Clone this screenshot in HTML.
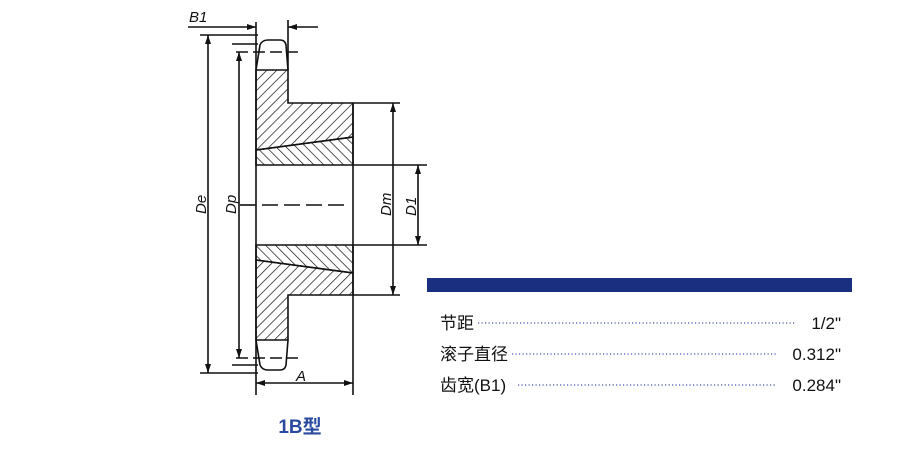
<!DOCTYPE html>
<html><head><meta charset="utf-8"><style>
body{margin:0;width:900px;height:450px;background:#fff;overflow:hidden;font-family:"Liberation Sans","Noto Sans CJK SC",sans-serif;}
</style></head><body>
<svg width="900" height="450" xmlns="http://www.w3.org/2000/svg" style="position:absolute;left:0;top:0">
<defs>
<pattern id="h1" width="7" height="7" patternUnits="userSpaceOnUse" patternTransform="rotate(45)"><line x1="0" y1="0" x2="0" y2="7" stroke="#111" stroke-width="1.4"/></pattern>
<pattern id="h2" width="7" height="7" patternUnits="userSpaceOnUse" patternTransform="rotate(-45)"><line x1="0" y1="0" x2="0" y2="7" stroke="#111" stroke-width="1.4"/></pattern>
<marker id="a" markerWidth="9" markerHeight="6" refX="9" refY="3" orient="auto-start-reverse" markerUnits="userSpaceOnUse"><path d="M0,0 L9,3 L0,6 z" fill="#111"/></marker>
</defs>
<g stroke="#111" stroke-width="1.6" fill="none">
<path d="M256,70 L288,70 L288,103 L353,103 L353,137 L256,150 Z" fill="url(#h1)"/>
<path d="M256,150 L353,137 L353,165 L256,165 Z" fill="url(#h2)"/>
<path d="M256,340 L288,340 L288,295 L353,295 L353,273 L256,260 Z" fill="url(#h1)"/>
<path d="M256,260 L353,273 L353,245 L256,245 Z" fill="url(#h2)"/>
<path d="M256,70 L260,45 Q262,40 268,40 L280,40 Q285,40 286,45 L288,70"/>
<path d="M256,340 L260,365 Q262,370 268,370 L280,370 Q285,370 286,365 L288,340"/>
<line x1="256" y1="22" x2="256" y2="395"/>
<line x1="288" y1="20" x2="288" y2="70"/>
<line x1="353" y1="103" x2="353" y2="395"/>
<line x1="236" y1="52" x2="298" y2="52" stroke-dasharray="12,5"/>
<line x1="236" y1="358" x2="298" y2="358" stroke-dasharray="12,5"/>
<line x1="240" y1="205" x2="350" y2="205" stroke-dasharray="16,6"/>
<line x1="200" y1="35" x2="258" y2="35"/>
<line x1="200" y1="373" x2="258" y2="373"/>
<line x1="232" y1="44" x2="258" y2="44"/>
<line x1="232" y1="365" x2="258" y2="365"/>
<line x1="353" y1="103" x2="400" y2="103"/>
<line x1="353" y1="295" x2="400" y2="295"/>
<line x1="353" y1="165" x2="427" y2="165"/>
<line x1="353" y1="245" x2="427" y2="245"/>
<line x1="208" y1="35" x2="208" y2="373" marker-start="url(#a)" marker-end="url(#a)"/>
<line x1="239" y1="52" x2="239" y2="358" marker-start="url(#a)" marker-end="url(#a)"/>
<line x1="393" y1="103" x2="393" y2="295" marker-start="url(#a)" marker-end="url(#a)"/>
<line x1="418" y1="165" x2="418" y2="245" marker-start="url(#a)" marker-end="url(#a)"/>
<line x1="256" y1="383" x2="353" y2="383" marker-start="url(#a)" marker-end="url(#a)"/>
<line x1="188" y1="27" x2="256" y2="27" marker-end="url(#a)"/>
<line x1="318" y1="27" x2="288" y2="27" marker-end="url(#a)"/>
</g>
<g font-family="Liberation Sans,sans-serif" font-style="italic" font-size="15" fill="#111">
<text x="189" y="22">B1</text>
<text x="296" y="381">A</text>
<text transform="translate(206,214) rotate(-90)">De</text>
<text transform="translate(236,214) rotate(-90)">Dp</text>
<text transform="translate(391,216) rotate(-90)">Dm</text>
<text transform="translate(416,216) rotate(-90)">D1</text>
</g>
<text x="300" y="433" text-anchor="middle" font-family="Liberation Sans,Noto Sans CJK SC,sans-serif" font-weight="bold" font-size="19" fill="#2a4aa0">1B型</text>
<rect x="427" y="278" width="425" height="14" fill="#1a2f80"/>
<g font-family="Liberation Sans,Noto Sans CJK SC,sans-serif" font-size="17" fill="#111">
<text x="440" y="329">节距</text>
<text x="440" y="360">滚子直径</text>
<text x="440" y="391">齿宽(B1)</text>
<text x="841" y="329" text-anchor="end">1/2"</text>
<text x="841" y="360" text-anchor="end">0.312"</text>
<text x="841" y="391" text-anchor="end">0.284"</text>
</g>
<g stroke="#6670c0" stroke-width="1.5" stroke-dasharray="1.2,2.3">
<line x1="478" y1="323" x2="796" y2="323"/>
<line x1="512" y1="354" x2="776" y2="354"/>
<line x1="518" y1="385" x2="776" y2="385"/>
</g>
</svg>
</body></html>
